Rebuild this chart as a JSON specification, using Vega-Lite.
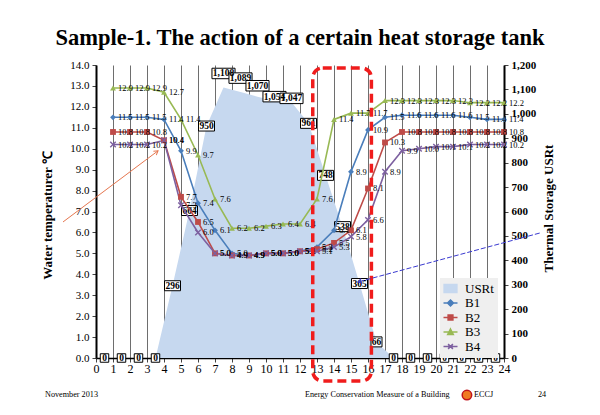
{
  "$schema": "https://vega.github.io/schema/vega-lite/v6.json",
  "width": 408,
  "height": 293,
  "autosize": "none",
  "padding": {"left": 96, "top": 65, "right": 96, "bottom": 57},
  "background": "white",
  "config": {
    "view": {"stroke": null},
    "font": "Liberation Serif",
    "axisX": {"tickCount": 24, "grid": true, "gridColor": "#6e6e6e", "labelFlush": false, "labelOverlap": false, "labelFontSize": 12, "labelColor": "black", "labelFont": "Liberation Serif", "domainColor": "black", "domainWidth": 1.5, "tickColor": "#444", "tickSize": 4, "labelPadding": 1},
    "axisLeft": {"tickCount": 14, "grid": true, "gridColor": "#9a9a9a", "labelFlush": false, "labelOverlap": false, "labelFontSize": 11, "labelColor": "black", "labelFont": "Liberation Serif", "domainColor": "black", "domainWidth": 2, "tickColor": "#444", "tickSize": 4, "labelPadding": 3},
    "axisRight": {"tickCount": 12, "grid": false, "labelFlush": false, "labelOverlap": false, "labelFontSize": 11, "labelFontWeight": "bold", "labelColor": "black", "labelFont": "Liberation Serif", "domainColor": "black", "domainWidth": 2, "tickColor": "#444", "tickSize": 4, "labelPadding": 3}
  },
  "title": {"text": "Sample-1. The action of a certain heat storage tank", "font": "Liberation Serif", "fontSize": 22.5, "fontWeight": "bold", "color": "black", "anchor": "middle", "frame": "group", "offset": 10},
  "datasets": {
    "temps": [
      {"hour": 1, "B1": 11.5, "B2": 10.8, "B3": 12.9, "B4": 10.2},
      {"hour": 2, "B1": 11.5, "B2": 10.8, "B3": 12.9, "B4": 10.2},
      {"hour": 3, "B1": 11.5, "B2": 10.8, "B3": 12.9, "B4": 10.2},
      {"hour": 4, "B1": 11.4, "B2": 10.4, "B3": 12.7, "B4": 10.4},
      {"hour": 5, "B1": 9.9, "B2": 7.7, "B3": 11.4, "B4": 7.3},
      {"hour": 6, "B1": 7.4, "B2": 6.5, "B3": 9.7, "B4": 6.0},
      {"hour": 7, "B1": 6.1, "B2": 5.0, "B3": 7.6, "B4": 5.0},
      {"hour": 8, "B1": 5.0, "B2": 4.9, "B3": 6.2, "B4": 4.9},
      {"hour": 9, "B1": 4.9, "B2": 4.9, "B3": 6.2, "B4": 4.9},
      {"hour": 10, "B1": 5.0, "B2": 5.0, "B3": 6.3, "B4": 5.0},
      {"hour": 11, "B1": 5.0, "B2": 5.0, "B3": 6.4, "B4": 5.0},
      {"hour": 12, "B1": 5.1, "B2": 5.1, "B3": 6.4, "B4": 5.1},
      {"hour": 13, "B1": 5.3, "B2": 5.2, "B3": 7.6, "B4": 5.1},
      {"hour": 14, "B1": 6.1, "B2": 5.5, "B3": 11.4, "B4": 5.3},
      {"hour": 15, "B1": 8.9, "B2": 6.1, "B3": 11.7, "B4": 5.8},
      {"hour": 16, "B1": 10.9, "B2": 8.1, "B3": 11.7, "B4": 6.6},
      {"hour": 17, "B1": 11.5, "B2": 10.3, "B3": 12.3, "B4": 8.9},
      {"hour": 18, "B1": 11.6, "B2": 10.8, "B3": 12.3, "B4": 9.9},
      {"hour": 19, "B1": 11.6, "B2": 10.8, "B3": 12.3, "B4": 10.0},
      {"hour": 20, "B1": 11.6, "B2": 10.8, "B3": 12.3, "B4": 10.1},
      {"hour": 21, "B1": 11.6, "B2": 10.8, "B3": 12.3, "B4": 10.1},
      {"hour": 22, "B1": 11.5, "B2": 10.8, "B3": 12.2, "B4": 10.2},
      {"hour": 23, "B1": 11.4, "B2": 10.8, "B3": 12.2, "B4": 10.2},
      {"hour": 24, "B1": 11.4, "B2": 10.8, "B3": 12.2, "B4": 10.2}
    ],
    "storage": [
      {"pos": 0.5, "series": "USRt", "usrt": 0},
      {"pos": 1.5, "series": "USRt", "usrt": 0},
      {"pos": 2.5, "series": "USRt", "usrt": 0},
      {"pos": 3.5, "series": "USRt", "usrt": 0},
      {"pos": 4.5, "series": "USRt", "usrt": 296},
      {"pos": 5.5, "series": "USRt", "usrt": 604},
      {"pos": 6.5, "series": "USRt", "usrt": 950},
      {"pos": 7.5, "series": "USRt", "usrt": 1108},
      {"pos": 8.5, "series": "USRt", "usrt": 1089},
      {"pos": 9.5, "series": "USRt", "usrt": 1070},
      {"pos": 10.5, "series": "USRt", "usrt": 1054},
      {"pos": 11.5, "series": "USRt", "usrt": 1047},
      {"pos": 12.5, "series": "USRt", "usrt": 961},
      {"pos": 13.5, "series": "USRt", "usrt": 748},
      {"pos": 14.5, "series": "USRt", "usrt": 538},
      {"pos": 15.5, "series": "USRt", "usrt": 305},
      {"pos": 16.5, "series": "USRt", "usrt": 66},
      {"pos": 17.5, "series": "USRt", "usrt": 0},
      {"pos": 18.5, "series": "USRt", "usrt": 0},
      {"pos": 19.5, "series": "USRt", "usrt": 0},
      {"pos": 20.5, "series": "USRt", "usrt": 0},
      {"pos": 21.5, "series": "USRt", "usrt": 0},
      {"pos": 22.5, "series": "USRt", "usrt": 0},
      {"pos": 23.5, "series": "USRt", "usrt": 0}
    ]
  },
  "resolve": {"scale": {"y": "independent"}},
  "layer": [
    {
      "data": {"name": "storage"},
      "layer": [
        {
          "mark": {"type": "area", "opacity": 1},
          "encoding": {
            "x": {"field": "pos", "type": "quantitative", "scale": {"domain": [0, 24], "nice": false, "zero": false}, "axis": {"title": null}},
            "y": {"field": "usrt", "type": "quantitative", "scale": {"domain": [0, 1200], "nice": false},
              "axis": {"orient": "right", "title": "Thermal Storage    USRt", "format": ",d", "titleFont": "Liberation Serif", "titleFontSize": 13, "titleFontWeight": "bold", "titleColor": "black", "titleAngle": 270, "titleX": 44, "titleY": 143, "titleAlign": "center", "titleBaseline": "middle"}},
            "color": {"field": "series", "type": "nominal",
              "scale": {"domain": ["USRt", "B1", "B2", "B3", "B4"], "range": ["#c6d8ef", "#4a7ebb", "#be4b48", "#98b954", "#7d60a0"]},
              "legend": {"orient": "none", "legendX": 344, "legendY": 213, "title": null, "direction": "vertical", "fillColor": "#efefef", "padding": 4, "rowPadding": 0.5, "labelFont": "Liberation Serif", "labelFontSize": 13, "labelColor": "black", "symbolSize": 64, "symbolStrokeWidth": 1.5, "labelOffset": 8,
                "encoding": {"symbols": {
                  "shape": {"value": {"expr": "datum.value === 'USRt' ? 'M-1.6,-1H1.6V1H-1.6Z' : datum.value === 'B1' ? 'M-1.75,0H1.75M0,-0.75L0.75,0L0,0.75L-0.75,0Z' : datum.value === 'B2' ? 'M-1.75,0H1.75M-0.6,-0.6H0.6V0.6H-0.6Z' : datum.value === 'B3' ? 'M-1.75,0H1.75M0,-0.75L0.7,0.6H-0.7Z' : 'M-1.75,0H1.75M-0.6,-0.6L0.6,0.6M-0.6,0.6L0.6,-0.6'"}},
                  "fill": {"value": {"expr": "scale('color', datum.value)"}},
                  "stroke": {"value": {"expr": "scale('color', datum.value)"}},
                  "opacity": {"value": 1}
                }}}
            }
          }
        },
        {
          "transform": [{"filter": "datum.usrt < 10"}],
          "mark": {"type": "point", "shape": "M-1,-1H1V1H-1Z", "size": 72, "filled": true, "fill": "white", "stroke": "black", "strokeWidth": 1, "opacity": 1},
          "encoding": {"x": {"field": "pos", "type": "quantitative"}, "y": {"field": "usrt", "type": "quantitative"}}
        },
        {
          "transform": [{"filter": "datum.usrt >= 10 && datum.usrt < 100"}],
          "mark": {"type": "point", "shape": "M-1.1,-1H1.1V1H-1.1Z", "size": 100, "filled": true, "fill": "white", "stroke": "black", "strokeWidth": 1, "opacity": 1},
          "encoding": {"x": {"field": "pos", "type": "quantitative"}, "y": {"field": "usrt", "type": "quantitative"}}
        },
        {
          "transform": [{"filter": "datum.usrt >= 100 && datum.usrt < 1000"}],
          "mark": {"type": "point", "shape": "M-1.6,-1H1.6V1H-1.6Z", "size": 100, "filled": true, "fill": "white", "stroke": "black", "strokeWidth": 1, "opacity": 1},
          "encoding": {"x": {"field": "pos", "type": "quantitative"}, "y": {"field": "usrt", "type": "quantitative"}}
        },
        {
          "transform": [{"filter": "datum.usrt >= 1085"}],
          "mark": {"type": "point", "shape": "M-2.2,-1H2.2V1H-2.2Z", "size": 110, "filled": true, "fill": "white", "stroke": "black", "strokeWidth": 1, "opacity": 1, "yOffset": -14},
          "encoding": {"x": {"field": "pos", "type": "quantitative"}, "y": {"field": "usrt", "type": "quantitative"}}
        },
        {
          "transform": [{"filter": "datum.usrt >= 1060 && datum.usrt < 1085"}],
          "mark": {"type": "point", "shape": "M-2.2,-1H2.2V1H-2.2Z", "size": 110, "filled": true, "fill": "white", "stroke": "black", "strokeWidth": 1, "opacity": 1, "yOffset": -11},
          "encoding": {"x": {"field": "pos", "type": "quantitative"}, "y": {"field": "usrt", "type": "quantitative"}}
        },
        {
          "transform": [{"filter": "datum.usrt >= 1000 && datum.usrt < 1060"}],
          "mark": {"type": "point", "shape": "M-2.2,-1H2.2V1H-2.2Z", "size": 110, "filled": true, "fill": "white", "stroke": "black", "strokeWidth": 1, "opacity": 1, "yOffset": -4},
          "encoding": {"x": {"field": "pos", "type": "quantitative"}, "y": {"field": "usrt", "type": "quantitative"}}
        },
        {
          "transform": [{"filter": "datum.usrt < 1000"}],
          "mark": {"type": "text", "font": "Liberation Serif", "fontSize": 9.5, "fontWeight": "bold", "color": "black", "baseline": "middle"},
          "encoding": {"x": {"field": "pos", "type": "quantitative"}, "y": {"field": "usrt", "type": "quantitative"}, "text": {"field": "usrt", "type": "quantitative", "format": ","}}
        },
        {
          "transform": [{"filter": "datum.usrt >= 1085"}],
          "mark": {"type": "text", "font": "Liberation Serif", "fontSize": 9.5, "fontWeight": "bold", "color": "black", "baseline": "middle", "yOffset": -14},
          "encoding": {"x": {"field": "pos", "type": "quantitative"}, "y": {"field": "usrt", "type": "quantitative"}, "text": {"field": "usrt", "type": "quantitative", "format": ","}}
        },
        {
          "transform": [{"filter": "datum.usrt >= 1060 && datum.usrt < 1085"}],
          "mark": {"type": "text", "font": "Liberation Serif", "fontSize": 9.5, "fontWeight": "bold", "color": "black", "baseline": "middle", "yOffset": -11},
          "encoding": {"x": {"field": "pos", "type": "quantitative"}, "y": {"field": "usrt", "type": "quantitative"}, "text": {"field": "usrt", "type": "quantitative", "format": ","}}
        },
        {
          "transform": [{"filter": "datum.usrt >= 1000 && datum.usrt < 1060"}],
          "mark": {"type": "text", "font": "Liberation Serif", "fontSize": 9.5, "fontWeight": "bold", "color": "black", "baseline": "middle", "yOffset": -4},
          "encoding": {"x": {"field": "pos", "type": "quantitative"}, "y": {"field": "usrt", "type": "quantitative"}, "text": {"field": "usrt", "type": "quantitative", "format": ","}}
        }
      ]
    },
    {
      "data": {"name": "temps"},
      "transform": [{"fold": ["B1", "B2", "B3", "B4"], "as": ["series", "temp"]}],
      "layer": [
        {
          "mark": {"type": "line", "strokeWidth": 1.6},
          "encoding": {
            "x": {"field": "hour", "type": "quantitative", "scale": {"domain": [0, 24], "nice": false, "zero": false},
              "axis": {"title": null, "format": "d"}},
            "y": {"field": "temp", "type": "quantitative", "scale": {"domain": [0, 14], "nice": false},
              "axis": {"title": "Water temperaturer  ℃", "format": ".1f", "titleFont": "Liberation Serif", "titleFontSize": 13, "titleFontWeight": "bold", "titleColor": "black", "titleAngle": 270, "titleX": -49, "titleY": 150, "titleAlign": "center", "titleBaseline": "middle"}},
            "color": {"field": "series", "type": "nominal", "scale": {"domain": ["USRt", "B1", "B2", "B3", "B4"], "range": ["#c6d8ef", "#4a7ebb", "#be4b48", "#98b954", "#7d60a0"]}}
          }
        },
        {
          "transform": [{"filter": "datum.series !== 'B4'"}],
          "mark": {"type": "point", "filled": true, "opacity": 1, "size": 34},
          "encoding": {
            "x": {"field": "hour", "type": "quantitative"},
            "y": {"field": "temp", "type": "quantitative"},
            "color": {"field": "series", "type": "nominal", "scale": {"domain": ["USRt", "B1", "B2", "B3", "B4"], "range": ["#c6d8ef", "#4a7ebb", "#be4b48", "#98b954", "#7d60a0"]}},
            "shape": {"field": "series", "type": "nominal", "scale": {"domain": ["B1", "B2", "B3"], "range": ["diamond", "square", "triangle-up"]}, "legend": null}
          }
        },
        {
          "transform": [{"filter": "datum.series === 'B4'"}],
          "mark": {"type": "point", "filled": false, "opacity": 1, "size": 30, "strokeWidth": 1.4, "shape": "M-1,-1L1,1M-1,1L1,-1"},
          "encoding": {
            "x": {"field": "hour", "type": "quantitative"},
            "y": {"field": "temp", "type": "quantitative"},
            "color": {"field": "series", "type": "nominal", "scale": {"domain": ["USRt", "B1", "B2", "B3", "B4"], "range": ["#c6d8ef", "#4a7ebb", "#be4b48", "#98b954", "#7d60a0"]}}
          }
        },
        {
          "mark": {"type": "text", "align": "left", "baseline": "middle", "dx": 5, "font": "Liberation Serif", "fontSize": 8.5, "color": "black"},
          "encoding": {
            "x": {"field": "hour", "type": "quantitative"},
            "y": {"field": "temp", "type": "quantitative"},
            "text": {"field": "temp", "type": "quantitative", "format": ".1f"}
          }
        },
        {
          "data": {"values": [{"x1": 12.75, "x2": 16.2, "y1": 13.86, "y2": -1.1}]},
          "mark": {"type": "rect", "filled": false, "stroke": "#f01c1c", "strokeWidth": 3.5, "strokeDash": [9, 5], "cornerRadius": 10},
          "encoding": {
            "x": {"field": "x1", "type": "quantitative"},
            "x2": {"field": "x2"},
            "y": {"field": "y1", "type": "quantitative"},
            "y2": {"field": "y2"}
          }
        },
        {
          "data": {"values": [{"x1": -1.94, "y1": 6.5, "x2": 3.65, "y2": 9.9}]},
          "mark": {"type": "rule", "color": "#e5764f", "strokeWidth": 1},
          "encoding": {
            "x": {"field": "x1", "type": "quantitative"},
            "x2": {"field": "x2"},
            "y": {"field": "y1", "type": "quantitative"},
            "y2": {"field": "y2"}
          }
        },
        {
          "data": {"values": [{"x2": 3.65, "y2": 9.9}]},
          "mark": {"type": "point", "shape": "M-1,-0.6L0,0L-1,0.6", "size": 64, "filled": false, "stroke": "#e5764f", "strokeWidth": 1, "opacity": 1, "angle": -36.8},
          "encoding": {
            "x": {"field": "x2", "type": "quantitative"},
            "y": {"field": "y2", "type": "quantitative"}
          }
        },
        {
          "data": {"values": [{"x1": 26.1, "y1": 5.97, "x2": 15.4, "y2": 3.63}]},
          "mark": {"type": "rule", "color": "#3a3ad0", "strokeWidth": 1, "strokeDash": [5, 2]},
          "encoding": {
            "x": {"field": "x1", "type": "quantitative"},
            "x2": {"field": "x2"},
            "y": {"field": "y1", "type": "quantitative"},
            "y2": {"field": "y2"}
          }
        },
        {
          "data": {"values": [{"x2": 15.4, "y2": 3.63}]},
          "mark": {"type": "point", "shape": "M-1,-0.6L0,0L-1,0.6", "size": 64, "filled": false, "stroke": "#3a3ad0", "strokeWidth": 1, "opacity": 1, "angle": 165},
          "encoding": {
            "x": {"field": "x2", "type": "quantitative"},
            "y": {"field": "y2", "type": "quantitative"}
          }
        },
        {
          "data": {"values": [
            {"fx": -3.0, "fy": -1.77, "txt": "November 2013"},
            {"fx": 12.29, "fy": -1.77, "txt": "Energy Conservation Measure of a Building"},
            {"fx": 22.24, "fy": -1.77, "txt": "ECCJ"},
            {"fx": 26.0, "fy": -1.77, "txt": "24"}
          ]},
          "mark": {"type": "text", "align": "left", "baseline": "middle", "font": "Liberation Serif", "fontSize": 8.2, "color": "black"},
          "encoding": {
            "x": {"field": "fx", "type": "quantitative"},
            "y": {"field": "fy", "type": "quantitative"},
            "text": {"field": "txt", "type": "nominal"}
          }
        },
        {
          "data": {"values": [{"fx": 21.82, "fy": -1.77}]},
          "mark": {"type": "point", "shape": "circle", "size": 90, "filled": true, "fill": "#f07a22", "stroke": "#c0141c", "strokeWidth": 1.5, "opacity": 1},
          "encoding": {
            "x": {"field": "fx", "type": "quantitative"},
            "y": {"field": "fy", "type": "quantitative"}
          }
        }
      ]
    }
  ]
}
